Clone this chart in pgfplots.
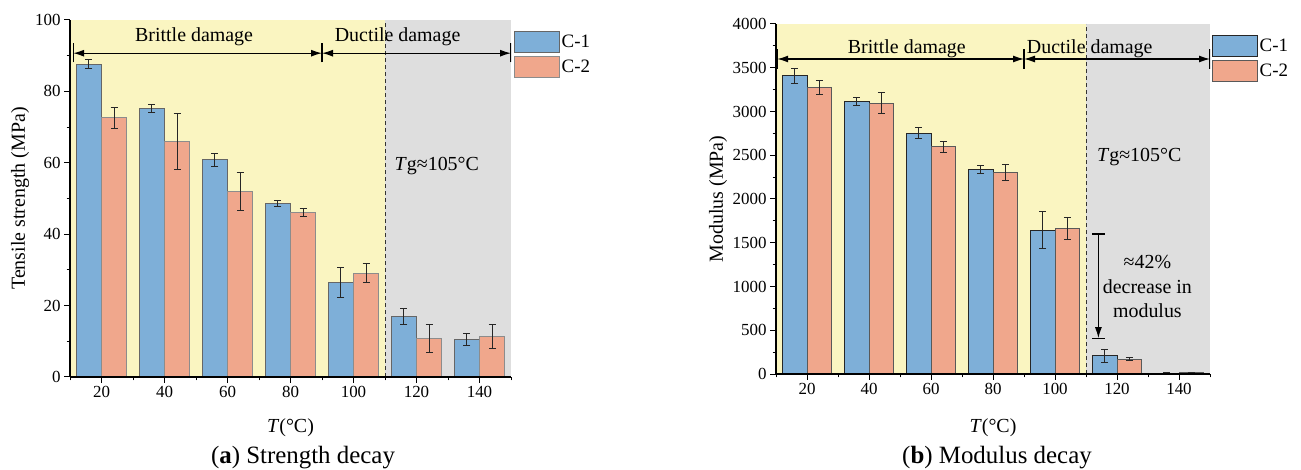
\documentclass[border=0pt]{standalone}
\usepackage{fontspec}
\setmainfont{Liberation Serif}
\usepackage{pgfplots}
\pgfplotsset{compat=1.18}
\usetikzlibrary{arrows.meta}

\definecolor{barblue}{HTML}{7EAFD8}
\definecolor{barsalmon}{HTML}{F0A78C}
\definecolor{brittlebg}{HTML}{FAF5C1}
\definecolor{ductilebg}{HTML}{DEDEDE}

\newcommand{\fs}[1]{\fontsize{#1}{1.2\dimexpr#1pt\relax}\selectfont}

\tikzset{
  arrowline/.style={line width=1.2bp, {Latex[length=11bp,width=7bp]}-{Latex[length=11bp,width=7bp]}},
  endbar/.style={line width=1.2bp},
}

\pgfplotsset{
  decay/.style={
    scale only axis,
    axis x line*=bottom,
    axis y line*=left,
    axis on top,
    axis line style={line width=1.2bp, black},
    xmin=10, xmax=150,
    xtick={20,40,...,140},
    minor xtick={10,30,...,150},
    tick align=outside,
    major tick length=6bp,
    minor tick length=3.5bp,
    every tick/.style={line width=1bp, black},
    /pgf/number format/assume math mode=true,
    /pgf/number format/1000 sep={},
    tick label style={font=\fs{17}},
    xlabel={\textit{T}(°C)},
    ybar, bar width=8,
    error bars/y dir=both,
    error bars/y explicit,
    error bars/error bar style={line width=1bp, black!85},
    error bars/error mark options={rotate=90, mark size=3.5bp, line width=1bp, black!85},
    legend image code/.code={\draw[##1] (0bp,-10.5bp) rectangle (45bp,10.5bp);},
    legend cell align=left,
    legend style={at={(rel axis cs:1,1)}, anchor=north west, draw=none, fill=none,
      inner sep=0pt, row sep=3bp, font=\fs{19},
      nodes={inner sep=1.5bp, anchor=west}},
  },
}

\begin{document}
\begin{tikzpicture}
\path[use as bounding box] (0,0) rectangle (1301bp,470bp);

% (a) tensile strength against temperature
\begin{axis}[decay,
  at={(70bp,93bp)}, anchor=south west,
  width=441bp, height=357bp,
  ymin=0, ymax=100,
  ytick={0,20,...,100},
  minor ytick={10,30,...,90},
  ylabel={Tensile strength (MPa)},
  every axis y label/.style={at={(axis description cs:-0.1134,0.5)}, rotate=90, anchor=center, font=\fs{20}},
  every axis x label/.style={at={(axis description cs:0.5,-0.1429)}, anchor=center, font=\fs{20}},
  legend style={xshift=3bp, yshift=-11bp},
]
\fill[brittlebg] (axis cs:10,0) rectangle (axis cs:110,100);
\fill[ductilebg] (axis cs:110,0) rectangle (axis cs:150,100);
\draw[line width=1bp, black!80, dash pattern=on 4bp off 3bp] (axis cs:110,0) -- (axis cs:110,100);

\addplot[fill=barblue, draw=black!60, line width=1bp, bar shift=-4] coordinates {
  (20,87.6) +- (0,1.2)
  (40,75.2) +- (0,1.1)
  (60,60.9) +- (0,1.8)
  (80,48.5) +- (0,0.8)
  (100,26.5) +- (0,4.2)
  (120,17.0) +- (0,2.2)
  (140,10.6) +- (0,1.7)
};
\addlegendentry{C-1}
\addplot[fill=barsalmon, draw=black!45, line width=1bp, bar shift=4] coordinates {
  (20,72.6) +- (0,3.0)
  (40,65.9) +- (0,7.8)
  (60,52.0) +- (0,5.3)
  (80,46.0) +- (0,1.1)
  (100,29.1) +- (0,2.6)
  (120,10.8) +- (0,4.0)
  (140,11.4) +- (0,3.4)
};
\addlegendentry{C-2}

\draw[arrowline] (axis cs:11,90.7) -- (axis cs:90,90.7);
\draw[arrowline] (axis cs:90,90.7) -- (axis cs:150,90.7);
\draw[endbar] (axis cs:11,88.1) -- (axis cs:11,93.5);
\draw[endbar] (axis cs:90,88.1) -- (axis cs:90,93.5);
\draw[endbar] (axis cs:150,88.1) -- (axis cs:150,93.5);
\node[font=\fs{20}] at (axis cs:49.4,95.2) {Brittle damage};
\node[font=\fs{20}] at (axis cs:114,95.2) {Ductile damage};
\node[font=\fs{20}, anchor=west, inner sep=0pt] at (axis cs:113,59) {\textit{T}g≈105°C};
\end{axis}

% (b) modulus against temperature
\begin{axis}[decay,
  at={(776bp,96bp)}, anchor=south west,
  width=434bp, height=350bp,
  ymin=0, ymax=4000,
  ytick={0,500,...,4000},
  minor ytick={250,750,...,3750},
  ylabel={Modulus (MPa)},
  every axis y label/.style={at={(axis description cs:-0.1336,0.5)}, rotate=90, anchor=center, font=\fs{20}},
  every axis x label/.style={at={(axis description cs:0.5,-0.1543)}, anchor=center, font=\fs{20}},
  legend style={xshift=2bp, yshift=-10.5bp},
]
\fill[brittlebg] (axis cs:10,0) rectangle (axis cs:110,4000);
\fill[ductilebg] (axis cs:110,0) rectangle (axis cs:150,4000);
\draw[line width=1bp, black!80, dash pattern=on 4bp off 3bp] (axis cs:110,0) -- (axis cs:110,4000);

\addplot[fill=barblue, draw=black!85, line width=1bp, bar shift=-4] coordinates {
  (20,3406) +- (0,82)
  (40,3112) +- (0,46)
  (60,2750) +- (0,63)
  (80,2335) +- (0,44)
  (100,1642) +- (0,211)
  (120,210) +- (0,74)
  (140,10) +- (0,4)
};
\addlegendentry{C-1}
\addplot[fill=barsalmon, draw=black!65, line width=1bp, bar shift=4] coordinates {
  (20,3269) +- (0,80)
  (40,3097) +- (0,122)
  (60,2598) +- (0,61)
  (80,2305) +- (0,91)
  (100,1665) +- (0,126)
  (120,171) +- (0,21)
  (140,12) +- (0,4)
};
\addlegendentry{C-2}

\draw[arrowline] (axis cs:10.4,3600) -- (axis cs:90,3600);
\draw[arrowline] (axis cs:90,3600) -- (axis cs:150,3600);
\draw[endbar] (axis cs:10.4,3490) -- (axis cs:10.4,3710);
\draw[endbar] (axis cs:90,3490) -- (axis cs:90,3710);
\draw[endbar] (axis cs:150,3490) -- (axis cs:150,3710);
\node[font=\fs{20}] at (axis cs:52.2,3722) {Brittle damage};
\node[font=\fs{20}] at (axis cs:111.2,3722) {Ductile damage};
\node[font=\fs{20}, anchor=west, inner sep=0pt] at (axis cs:113.5,2483) {\textit{T}g≈105°C};

% drop in modulus across the glass transition
\draw[line width=1.1bp, -{Latex[length=11bp,width=7bp]}] (axis cs:114,1600) -- (axis cs:114,410);
\draw[line width=1.1bp] (axis cs:112,1600) -- (axis cs:116,1600);
\draw[line width=1.1bp] (axis cs:112,410) -- (axis cs:116,410);
\node[font=\fontsize{20}{24.3}\selectfont, align=center, inner sep=0pt] at (axis cs:129.8,1000)
  {≈42\%\\decrease in\\modulus};
\end{axis}

\node[font=\fs{25}] at (303bp,12bp) {(\textbf{a}) Strength decay};
\node[font=\fs{25}] at (997bp,12bp) {(\textbf{b}) Modulus decay};
\end{tikzpicture}
\end{document}
